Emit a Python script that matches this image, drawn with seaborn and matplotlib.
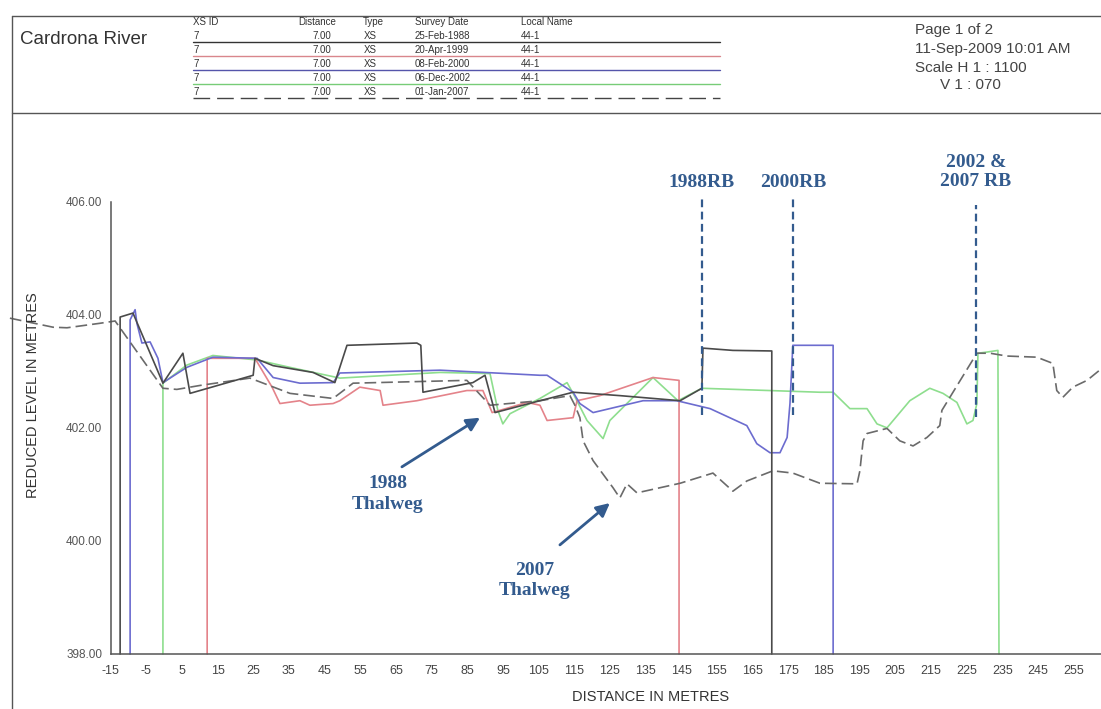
import matplotlib
matplotlib.use('Agg')
import matplotlib.pyplot as plt
import pandas as pd
import seaborn as sns
from matplotlib.lines import Line2D

# Cross-section XS 7 surveys (distance m, reduced level m)
dist_1988 = [-12.3, -12.3, -8.7, -0.3, 5.3, 7.3, 25.0, 25.5, 30.6, 41.8, 47.9, 51.3, 70.9, 72.0,
             72.6, 86.6, 90.0, 92.8, 105.4, 114.7, 127.8, 144.7, 150.8, 151.1, 159.5, 170.4, 170.4]
level_1988 = [398.0, 403.96, 404.03, 402.79, 403.32, 402.61, 402.93, 403.23, 403.10, 402.98, 402.80,
              403.46, 403.50, 403.46, 402.63, 402.80, 402.93, 402.27, 402.48, 402.63, 402.57, 402.48,
              402.70, 403.41, 403.37, 403.36, 398.0]

dist_1999 = [12.1, 12.1, 25.5, 30.3, 32.5, 38.1, 40.9, 47.4, 49.3, 54.9, 60.6, 61.4, 70.9, 84.9,
             89.4, 92.0, 101.8, 105.4, 107.4, 114.7, 115.8, 122.2, 137.1, 144.4, 144.4]
level_1999 = [398.0, 403.23, 403.23, 402.72, 402.43, 402.48, 402.40, 402.43, 402.48, 402.72, 402.66,
              402.40, 402.48, 402.66, 402.66, 402.27, 402.45, 402.40, 402.13, 402.18, 402.48, 402.57,
              402.89, 402.84, 398.0]

dist_2000 = [-9.5, -9.5, -8.1, -7.6, -6.2, -3.9, -1.7, -0.3, 6.4, 13.7, 26.1, 30.6, 38.1, 47.4, 49.3,
             77.4, 105.4, 107.4, 114.7, 116.6, 120.3, 134.3, 143.8, 153.1, 163.4, 166.2, 169.9, 172.7,
             174.7, 175.5, 176.3, 187.6, 187.6]
level_2000 = [398.0, 403.91, 404.09, 403.85, 403.50, 403.52, 403.23, 402.80, 403.07, 403.25, 403.23,
              402.89, 402.79, 402.80, 402.97, 403.02, 402.93, 402.93, 402.63, 402.43, 402.27, 402.48,
              402.48, 402.34, 402.04, 401.72, 401.56, 401.56, 401.83, 402.43, 403.46, 403.46, 398.0]

dist_2002 = [-0.3, -0.3, 6.4, 13.7, 26.1, 35.3, 49.3, 77.4, 91.4, 93.6, 95.0, 97.0, 105.4, 113.0,
             114.7, 118.6, 123.1, 125.0, 137.1, 144.1, 150.8, 183.9, 187.6, 192.3, 197.1, 199.9,
             202.7, 209.1, 214.7, 218.4, 222.3, 225.1, 226.8, 227.9, 228.2, 230.7, 233.8, 234.1]
level_2002 = [398.0, 402.79, 403.11, 403.28, 403.20, 403.07, 402.88, 402.98, 402.96, 402.31, 402.07,
              402.25, 402.52, 402.80, 402.61, 402.13, 401.81, 402.13, 402.89, 402.48, 402.70, 402.63,
              402.63, 402.34, 402.34, 402.07, 402.00, 402.48, 402.70, 402.61, 402.45, 402.07, 402.13,
              402.43, 403.32, 403.34, 403.37, 398.0]

dist_2007 = [-43.2, -31.1, -27.2, -17.9, -13.7, -0.3, 3.6, 10.1, 24.1, 35.3, 47.4, 53.0, 84.9, 91.4,
             105.4, 113.8, 115.2, 116.6, 117.5, 120.3, 125.9, 127.8, 129.8, 132.6, 144.7, 153.9,
             159.5, 163.4, 170.7, 176.3, 183.9, 194.3, 195.1, 196.0, 197.1, 202.7, 206.3, 210.0,
             213.9, 217.5, 218.1, 227.9, 231.6, 236.3, 244.7, 249.2, 250.3, 252.0, 254.8, 258.8, 262.7]
level_2007 = [403.94, 403.78, 403.77, 403.85, 403.89, 402.70, 402.68, 402.75, 402.88, 402.61, 402.52,
              402.79, 402.84, 402.40, 402.48, 402.57, 402.40, 402.18, 401.77, 401.42, 400.94, 400.76,
              401.01, 400.85, 401.02, 401.20, 400.88, 401.06, 401.24, 401.20, 401.02, 401.01, 401.24,
              401.77, 401.90, 401.99, 401.77, 401.68, 401.83, 402.04, 402.31, 403.32, 403.32, 403.27,
              403.25, 403.14, 402.66, 402.54, 402.72, 402.84, 403.04]

survey_dates = ['25-Feb-1988', '20-Apr-1999', '08-Feb-2000', '06-Dec-2002', '01-Jan-2007']
x_ticks = list(range(-15, 256, 10))
y_ticks = [398, 400, 402, 404, 406]

# bank markers and thalweg notes
rb_labels = ['1988RB', '2000RB', '2002 &\n2007 RB']
rb_x = [150.7, 176.4, 227.6]
rb_top = [406.12, 406.12, 405.95]
rb_bottom = [402.22, 402.22, 402.19]
rb_text_y = [406.34, 406.34, 406.53]

thal_labels = ['1988\nThalweg', '2007\nThalweg']
thal_text = [(62.8, 400.83), (104.0, 399.30)]
thal_tail = [(66.7, 401.31), (111.0, 399.93)]
thal_head = [(88.6, 402.18), (125.0, 400.67)]

sns.set_style('white')
plt.rcParams['font.family'] = ['Liberation Sans', 'DejaVu Sans']

W, H = 1101, 709
fig = plt.figure(figsize=(W / 100, H / 100), dpi=100)


def fx(p):
    return p / W


def fy(p):
    return 1 - p / H


ax = fig.add_axes([fx(110.5), fy(654), 1 - fx(110.5), (654 - 201.7) / H])

series = [
    ('2002', dist_2002, level_2002, '#8ede8e', None),
    ('1999', dist_1999, level_1999, '#e4838a', None),
    ('2000', dist_2000, level_2000, '#6c6ccf', None),
    ('2007', dist_2007, level_2007, '#6a6a6a', (7, 3)),
    ('1988', dist_1988, level_1988, '#4a4a4a', None),
]
for name, xs, ys, col, dash in series:
    df = pd.DataFrame({'dist': xs, 'level': ys})
    sns.lineplot(data=df, x='dist', y='level', ax=ax, sort=False, estimator=None,
                 color=col, lw=1.2, clip_on=False)
    if dash:
        ax.lines[-1].set_dashes(dash)

ax.set_xlim(-15, 262.7)
ax.set_ylim(398, 406)
ax.set_xticks(x_ticks)
ax.set_xticklabels([str(t) for t in x_ticks])
ax.set_yticks(y_ticks)
ax.set_yticklabels([f'{v:.2f}' for v in y_ticks])
ax.set_xlabel('')
ax.set_ylabel('')
ax.patch.set_alpha(0)
for s in ['top', 'right']:
    ax.spines[s].set_visible(False)
for s in ['left', 'bottom']:
    ax.spines[s].set_color('#555555')
    ax.spines[s].set_linewidth(1.1)
ax.tick_params(axis='x', direction='out', length=5, width=1, color='#555555',
               labelsize=9, labelcolor='#444444', pad=3)
ax.tick_params(axis='y', direction='out', length=4, width=1, color='#555555',
               labelsize=8.5, labelcolor='#555555', pad=2)

blue = '#335b8e'
serif = ['Liberation Serif', 'DejaVu Serif']
for lab, x, top, bot, ty in zip(rb_labels, rb_x, rb_top, rb_bottom, rb_text_y):
    ax.plot([x, x], [bot, top], color=blue, lw=1.6, ls=(0, (3.5, 2)), clip_on=False)
    ax.text(x, ty, lab, ha='center', va='center', color=blue, fontsize=14,
            fontweight='bold', family=serif, linespacing=1.15)

for lab, tpos, tail, head in zip(thal_labels, thal_text, thal_tail, thal_head):
    ax.text(tpos[0], tpos[1], lab, ha='center', va='center', color=blue, fontsize=14,
            fontweight='bold', family=serif, linespacing=1.25)
    ax.annotate('', xy=head, xytext=tail,
                arrowprops=dict(arrowstyle='-|>', color=blue, lw=2, mutation_scale=20,
                                shrinkA=0, shrinkB=0))

fig.text(fx(33), fy(395), 'REDUCED LEVEL IN METRES', rotation=90, ha='center', va='center',
         fontsize=10.5, color='#333333')
fig.text(fx(651), fy(697), 'DISTANCE IN METRES', ha='center', va='center',
         fontsize=10.5, color='#333333')

# page frame
frame = dict(color='#555555', lw=1, transform=fig.transFigure)
fig.add_artist(Line2D([fx(12), 1], [fy(16), fy(16)], **frame))
fig.add_artist(Line2D([fx(12), fx(12)], [fy(16), 0], **frame))
fig.add_artist(Line2D([fx(12), 1], [fy(113), fy(113)], **frame))

# header block
fig.text(fx(20), fy(40), 'Cardrona River', ha='left', va='center', fontsize=13.5, color='#333333')

hdr = dict(ha='left', va='center', fontsize=7, color='#333333')
for txt, xp in zip(['XS ID', 'Distance', 'Type', 'Survey Date', 'Local Name'], [193, 298, 363, 415, 521]):
    fig.text(fx(xp), fy(22), txt, **hdr)

row_colors = ['#333333', '#d9868c', '#5555aa', '#77cc77', '#444444']
for i, (date, col) in enumerate(zip(survey_dates, row_colors)):
    yy = 36 + 14 * i
    fig.text(fx(193), fy(yy), '7', **hdr)
    fig.text(fx(331), fy(yy), '7.00', ha='right', va='center', fontsize=7, color='#333333')
    fig.text(fx(364), fy(yy), 'XS', **hdr)
    fig.text(fx(415), fy(yy), date, **hdr)
    fig.text(fx(521), fy(yy), '44-1', **hdr)
    ln = Line2D([fx(193), fx(720)], [fy(yy + 6), fy(yy + 6)], color=col, lw=1,
                transform=fig.transFigure)
    if i == 4:
        ln.set_dashes((12, 5))
    fig.add_artist(ln)

info = dict(ha='left', va='center', fontsize=11, color='#444444')
fig.text(fx(915), fy(30), 'Page 1 of 2', **info)
fig.text(fx(915), fy(49), '11-Sep-2009 10:01 AM', **info)
fig.text(fx(915), fy(68), 'Scale H 1 : 1100', **info)
fig.text(fx(940), fy(85), 'V 1 : 070', **info)

fig.savefig('out.png', dpi=100)
